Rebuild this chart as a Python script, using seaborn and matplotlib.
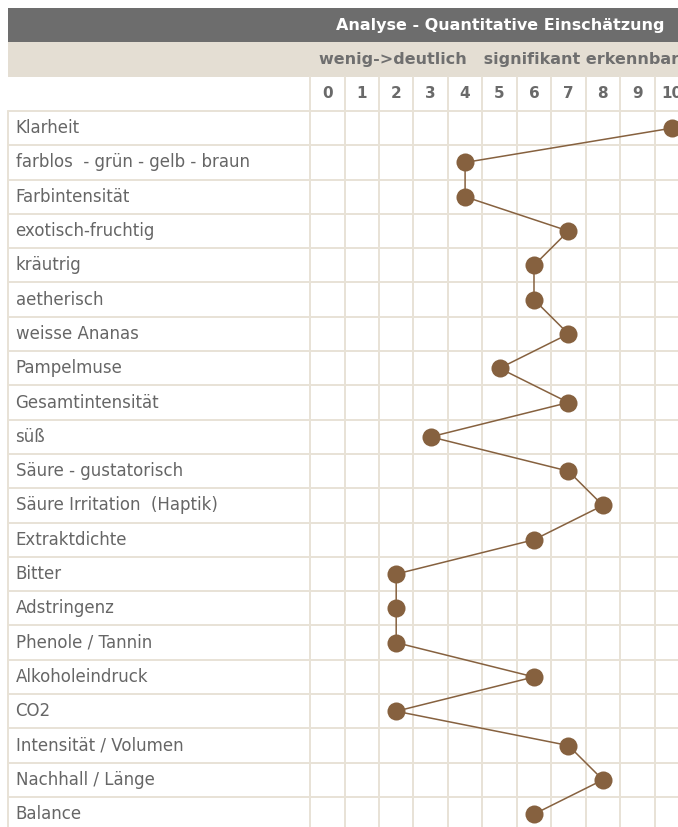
import matplotlib
matplotlib.use("Agg")
import matplotlib.pyplot as plt
import seaborn as sns
from matplotlib.patches import Rectangle

# Merkmale und Bewertungen (0-10)
merkmale = ["Klarheit", "farblos  - grün - gelb - braun", "Farbintensität",
            "exotisch-fruchtig", "kräutrig", "aetherisch", "weisse Ananas",
            "Pampelmuse", "Gesamtintensität", "süß", "Säure - gustatorisch",
            "Säure Irritation  (Haptik)", "Extraktdichte", "Bitter", "Adstringenz",
            "Phenole / Tannin", "Alkoholeindruck", "CO2", "Intensität / Volumen",
            "Nachhall / Länge", "Balance"]
werte = [10, 4, 4, 7, 6, 6, 7, 5, 7, 3, 7, 8, 6, 2, 2, 2, 6, 2, 7, 8, 6]
skala = list(range(0, 11))
titel = "Analyse - Quantitative Einschätzung"
untertitel = "wenig->deutlich   signifikant erkennbar"

grid_col = "#e8e2d6"
text_col = "#6a6a6a"
punkt_col = "#86613f"

sns.set_style("white")
plt.rcParams["font.family"] = ["DejaVu Sans"]
fig = plt.figure(figsize=(6.78, 8.27), dpi=100)
ax = fig.add_axes([0, 0, 1, 1])
ax.set_xlim(-9.5, 10.18)
ax.set_ylim(20.375, -3.736)
ax.axis("off")

n = len(merkmale)
x_links = -9.27

# Kopfzeilen
ax.add_patch(Rectangle((x_links, -3.5), 30, 1.0, color="#6d6d6d", lw=0))
ax.add_patch(Rectangle((x_links, -2.5), 30, 1.0, color="#e4ded3", lw=0))
ax.text(0.26, -3.0, titel, color="white", fontsize=11.5, fontweight="bold",
        ha="left", va="center")
ax.text(-0.24, -2.0, untertitel, color="#6f6f6f", fontsize=11.5, fontweight="bold",
        ha="left", va="center")

# Raster
for k in range(len(skala) + 1):
    ax.plot([k - 0.5, k - 0.5], [-1.5, n], color=grid_col, lw=1.4, zorder=1)
for r in range(n + 1):
    ax.plot([x_links, 10.5], [r - 0.5, r - 0.5], color=grid_col, lw=1.4, zorder=1)
ax.plot([x_links, x_links], [-0.5, n], color=grid_col, lw=1.4, zorder=1)

for s in skala:
    ax.text(s, -1.0, str(s), color=text_col, fontsize=11, fontweight="bold",
            ha="center", va="center")

for i, m in enumerate(merkmale):
    ax.text(-9.05, i, m, color="#666666", fontsize=12, ha="left", va="center")

pos = list(range(n))
sns.lineplot(x=werte, y=pos, orient="y", sort=False, color=punkt_col, lw=1.1,
             marker="o", markersize=13, markeredgecolor=punkt_col,
             markeredgewidth=0, ax=ax, zorder=3)

ax.set_xlim(-9.5, 10.18)
ax.set_ylim(20.375, -3.736)
ax.axis("off")
fig.savefig("out.png", dpi=100)
